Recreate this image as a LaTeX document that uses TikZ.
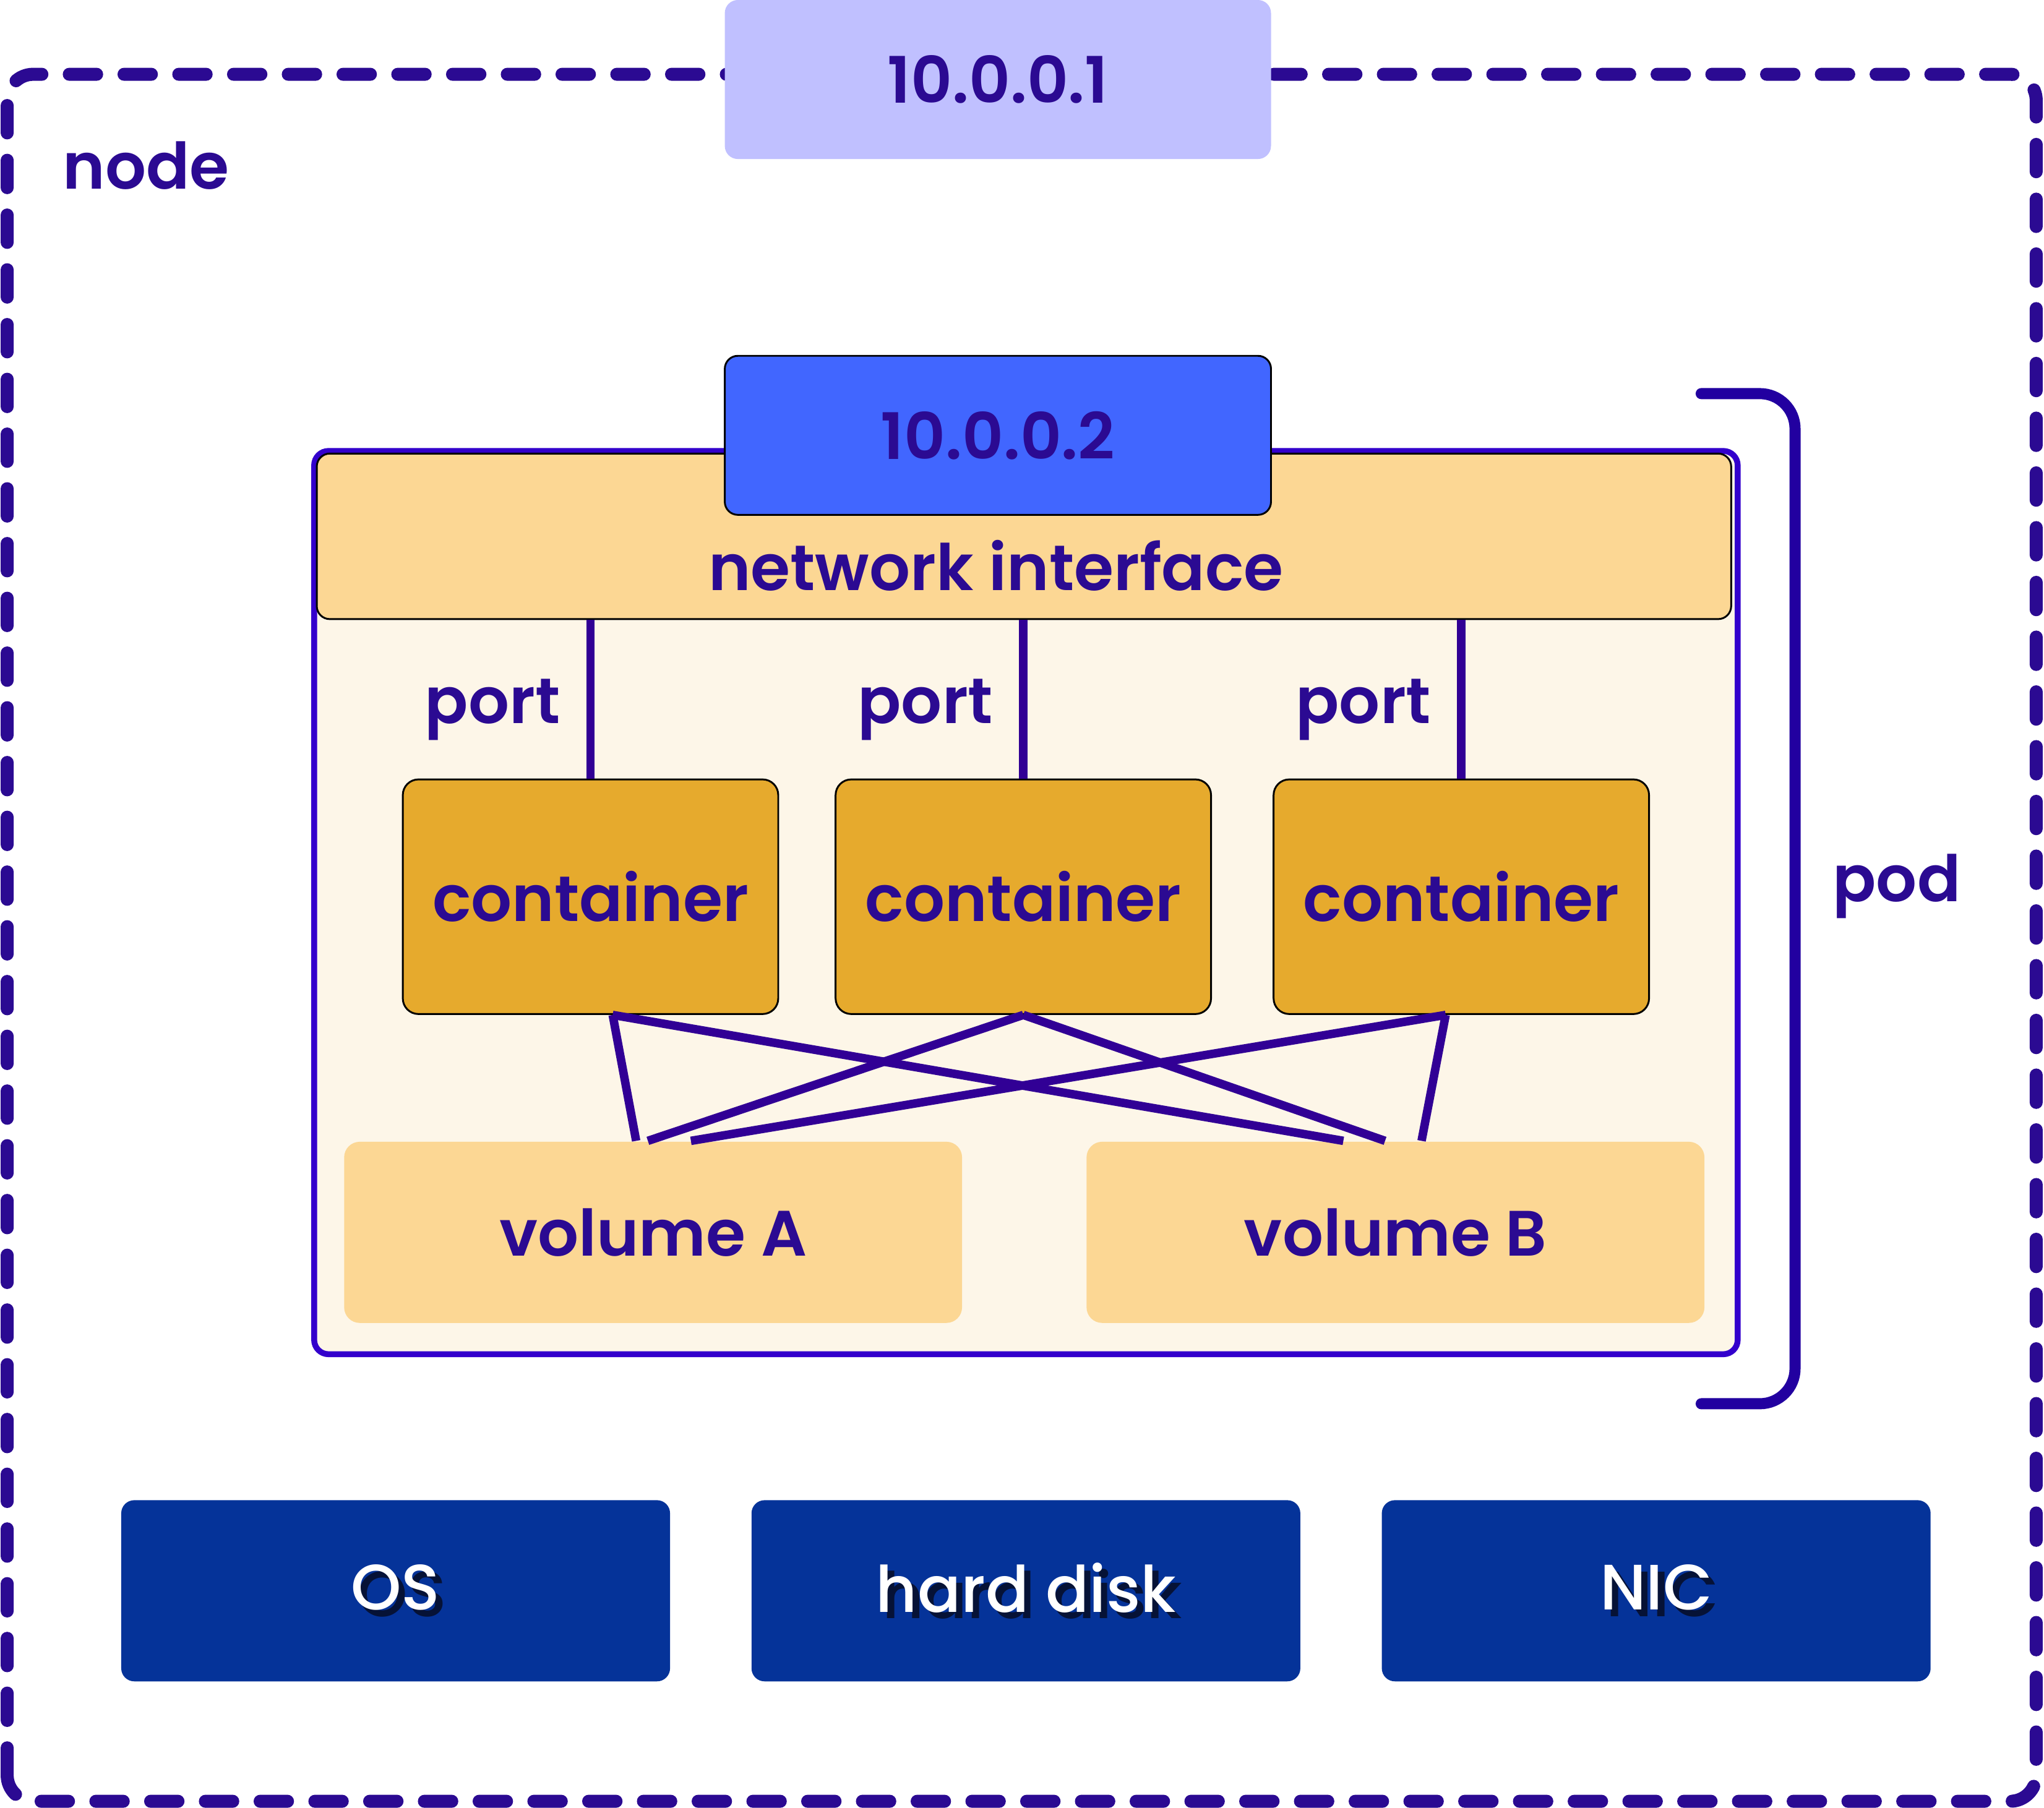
\documentclass[tikz,border=0pt]{standalone}
\usepackage{fontspec}
\setmainfont{Poppins}[BoldFont={Poppins SemiBold}]
\newfontfamily\medio{Poppins Medium}
\usetikzlibrary{positioning}

\definecolor{tinta}{HTML}{2B0A92}
\definecolor{linea}{HTML}{310095}
\definecolor{bordepod}{HTML}{3300CC}
\definecolor{corch}{HTML}{2200A0}
\definecolor{lila}{HTML}{C0C0FF}
\definecolor{azul}{HTML}{4166FF}
\definecolor{crema}{HTML}{FDF6E8}
\definecolor{arena}{HTML}{FCD794}
\definecolor{mostaza}{HTML}{E6AA2D}
\definecolor{marino}{HTML}{053399}
\definecolor{sombrac}{HTML}{061236}

\tikzset{
  etiqueta/.style={text=tinta,font=\fontsize{14}{16}\selectfont\bfseries,inner sep=0pt},
  ip/.style={etiqueta,rounded corners=0.1cm,minimum width=4.19cm,minimum height=1.22cm},
  contenedor/.style={etiqueta,draw=black,line width=0.4pt,fill=mostaza,rounded corners=0.12cm,
    minimum width=2.88cm,minimum height=1.80cm},
  volumen/.style={etiqueta,fill=arena,rounded corners=0.12cm,minimum width=4.74cm,minimum height=1.39cm},
  base/.style={fill=marino,text=white,font=\fontsize{14}{16}\selectfont\medio,rounded corners=0.1cm,
    minimum width=4.21cm,minimum height=1.39cm,inner sep=0pt},
  conector/.style={draw=linea,line width=0.065cm},
}
\newcommand\sombra[1]{\makebox[0pt][l]{\kern1.4pt\raisebox{-1.4pt}{\color{sombrac}#1}}#1}

\begin{document}
\begin{tikzpicture}
   \useasboundingbox (0,0) rectangle (15.68,13.87);

   %nodo
   \draw[tinta,line width=0.1cm,line cap=round,dash pattern=on 0.21cm off 0.21cm,rounded corners=0.2cm]
     (0.055,0.05) rectangle (15.62,13.30);
   \node[ip,fill=lila] (ip1) at (7.655,13.26) {10.0.0.1};
   \node[etiqueta] (nodo) at (1.12,12.60) {node};

   %pod
   \node[draw=bordepod,line width=0.045cm,fill=crema,rounded corners=0.11cm,
     minimum width=10.92cm,minimum height=6.93cm] (pod) at (7.87,6.945) {};
   \node[draw=black,line width=0.4pt,fill=arena,rounded corners=0.1cm,
     minimum width=10.85cm,minimum height=1.27cm] (banda) at (7.855,9.755) {};
   \node[ip,fill=azul,draw=black,line width=0.4pt] (ip2) at (7.655,10.53) {10.0.0.2};
   \node[etiqueta] (red) at (7.64,9.53) {network interface};
   \draw[corch,line width=0.085cm,line cap=round,rounded corners=0.27cm]
     (13.05,10.85) -- (13.77,10.85) -- (13.77,3.10) -- (13.05,3.10);
   \node[etiqueta] (podlbl) at (14.55,7.07) {pod};

   %contenedores y puertos
   \node[contenedor] (c1) at (4.53,6.99) {container};
   \node[contenedor] (c2) at (7.85,6.99) {container};
   \node[contenedor] (c3) at (11.21,6.99) {container};
   \foreach \c in {c1,c2,c3}
     \draw[conector] (\c.north) -- node[etiqueta,left=0.2cm,yshift=-0.08cm] {port} (\c.north |- banda.south);

   %volumenes
   \node[volumen] (vA) at (5.01,4.415) {volume A};
   \node[volumen] (vB) at (10.705,4.415) {volume B};
   \draw[conector] ([xshift=0.17cm]c1.south) -- ([xshift=-0.13cm]vA.north);
   \draw[conector] ([xshift=0.17cm]c1.south) -- ([xshift=-0.40cm]vB.north);
   \draw[conector] (c2.south) -- ([xshift=-0.04cm]vA.north);
   \draw[conector] (c2.south) -- ([xshift=-0.08cm]vB.north);
   \draw[conector] ([xshift=-0.12cm]c3.south) -- ([xshift=0.29cm]vA.north);
   \draw[conector] ([xshift=-0.12cm]c3.south) -- ([xshift=0.20cm]vB.north);

   %hardware
   \foreach \x/\t/\n in {3.035/OS/os,7.87/hard disk/disco,12.705/NIC/nic}
     \node[base] (\n) at (\x,1.665) {\sombra{\t}};
\end{tikzpicture}
\end{document}
